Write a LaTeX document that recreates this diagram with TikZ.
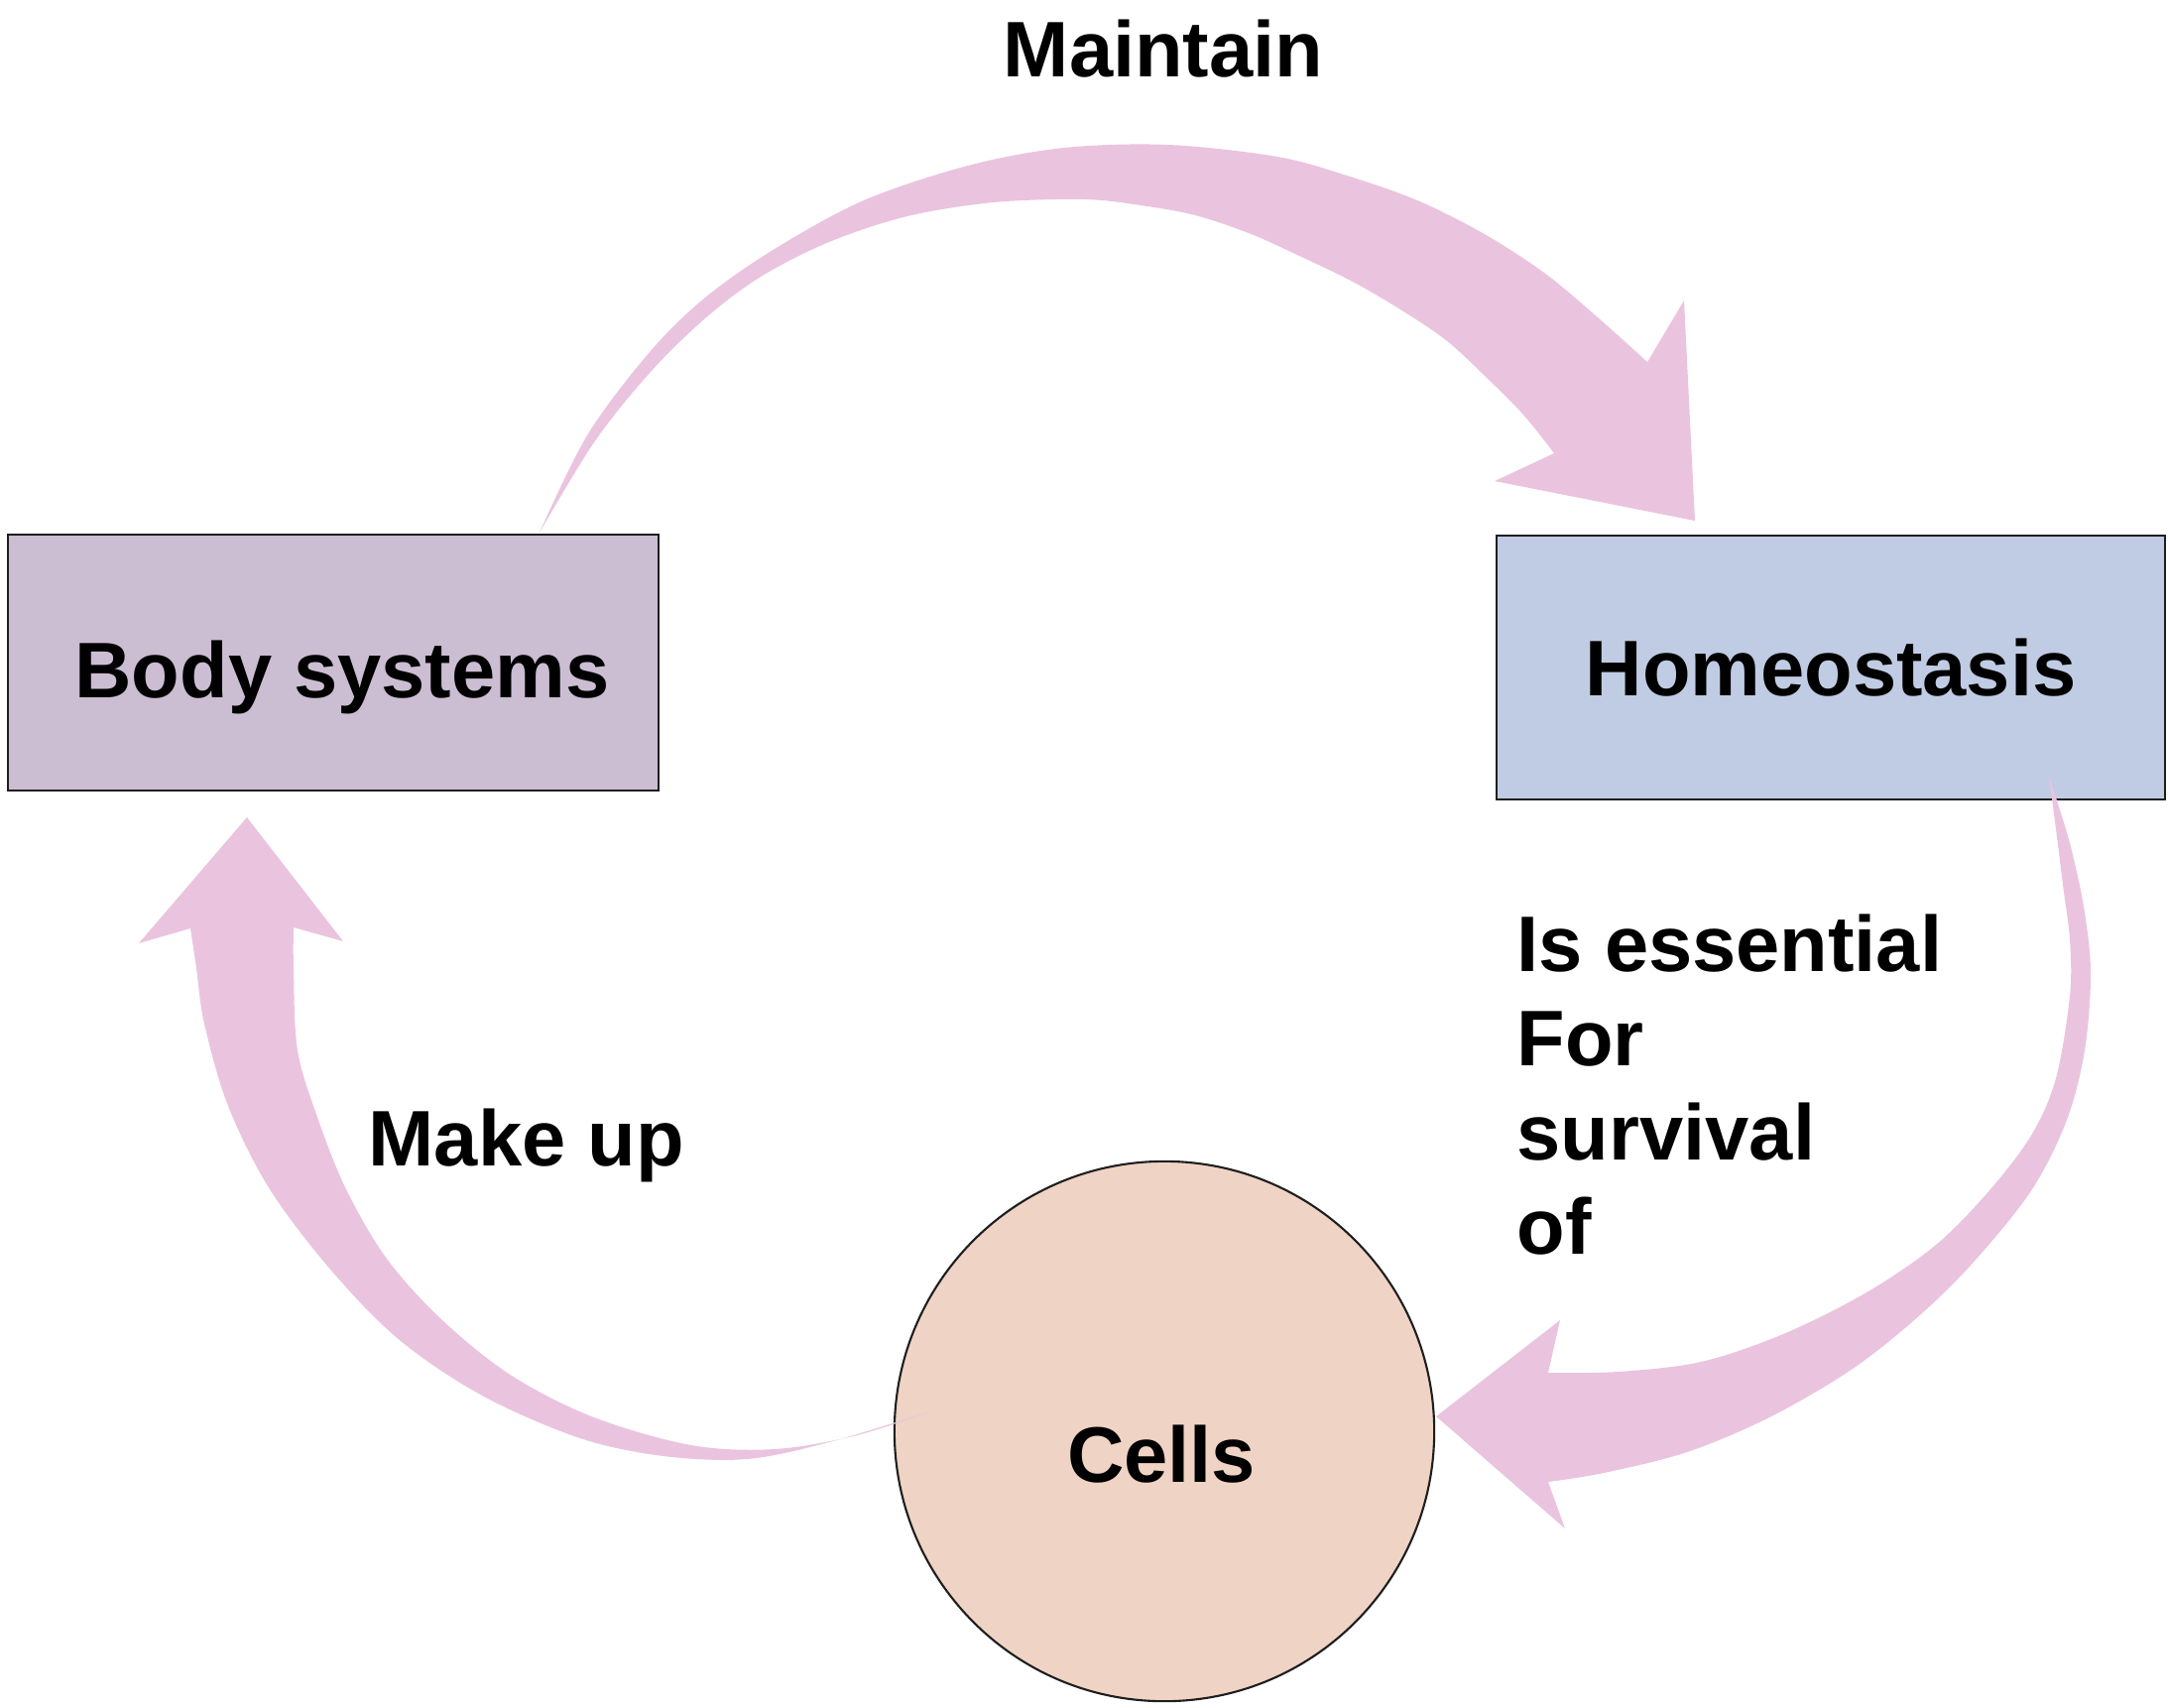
\documentclass[tikz,border=0pt]{standalone}
\usepackage{fontspec}
\setmainfont{Liberation Sans}
\definecolor{bodyfill}{RGB}{203,189,210}
\definecolor{homeofill}{RGB}{192,204,227}
\definecolor{cellfill}{RGB}{239,211,196}
\definecolor{flowpink}{RGB}{234,196,222}
\definecolor{ink}{RGB}{30,30,30}
\usepackage{tikz}

\begin{document}
\begin{tikzpicture}[x=0.01cm, y=-0.01cm,
    lbl/.style={font=\fontsize{22.6}{27}\selectfont\bfseries, inner sep=0pt},
    box/.style={draw=ink, line width=0.6pt, inner sep=0pt, lbl},
    flow/.style={fill=flowpink}]
  \useasboundingbox (0,0) rectangle (2186,1721);

  \node[box, fill=bodyfill, minimum width=6.56cm, minimum height=2.57cm] (body) at (336,668) {};
  \node[lbl] (bodytxt) at (345,683) {Body systems};
  \node[box, fill=homeofill, minimum width=6.73cm, minimum height=2.66cm] (homeo) at (1846,673) {Homeostasis};
  \node[box, circle, fill=cellfill, minimum size=5.44cm] (cells) at (1174,1443) {};
  \node[lbl] (cellstxt) at (1171,1466) {Cells};

  \node[lbl, anchor=base] (maintain) at (1173,77) {Maintain};
  \node[lbl, anchor=base west] (makeup) at (371,1175) {Make up};
  \node[lbl, anchor=north west, align=left] (essential) at (1529,921) {Is essential\\For\\survival\\of};

  % body systems -> homeostasis
  \fill[flow] plot[smooth, tension=0.55] coordinates {(544,537) (592,439) (655,355) (711,300) (781,251) (871,202) (976,167) (1073,149) (1178,146) (1288,158) (1358,177) (1429,202) (1495,235) (1557,275) (1611,320) (1661,365)}
    -- (1698,303) -- (1709,525) -- (1507,485) -- (1567,457)
    -- plot[smooth, tension=0.55] coordinates {(1567,457) (1535,417) (1495,377) (1458,343) (1412,312) (1362,283) (1308,257) (1259,235) (1205,217) (1150,207) (1093,201) (1002,204) (915,218) (836,244) (767,279) (711,321) (655,376) (599,446) (544,537)} -- cycle;

  % homeostasis -> cells
  \fill[flow] plot[smooth, tension=0.55] coordinates {(2066,783) (2087,850) (2102,920) (2108,983) (2102,1059) (2084,1129) (2049,1199) (1993,1269) (1938,1324) (1868,1380) (1784,1429) (1701,1464) (1617,1485) (1561,1494)}
    -- (1578,1541) -- (1448,1428) -- (1573,1331) -- (1561,1384)
    -- plot[smooth, tension=0.55] coordinates {(1561,1384) (1631,1383) (1715,1373) (1798,1345) (1882,1303) (1952,1255) (2007,1199) (2049,1143) (2073,1087) (2087,1004) (2087,948) (2080,892) (2073,836) (2066,783)} -- cycle;

  % cells -> body systems
  \fill[flow] plot[smooth, tension=0.55] coordinates {(941,1422) (836,1454) (753,1471) (669,1468) (585,1450) (488,1408) (404,1352) (335,1282) (272,1199) (230,1115) (206,1032) (198,976) (192,936)}
    -- (140,951) -- (249,824) -- (346,949) -- (296,935)
    -- plot[smooth, tension=0.55] coordinates {(296,935) (296,976) (300,1059) (321,1129) (349,1199) (390,1269) (446,1331) (516,1387) (599,1429) (697,1457) (781,1461) (864,1447) (941,1422)} -- cycle;
\end{tikzpicture}
\end{document}
